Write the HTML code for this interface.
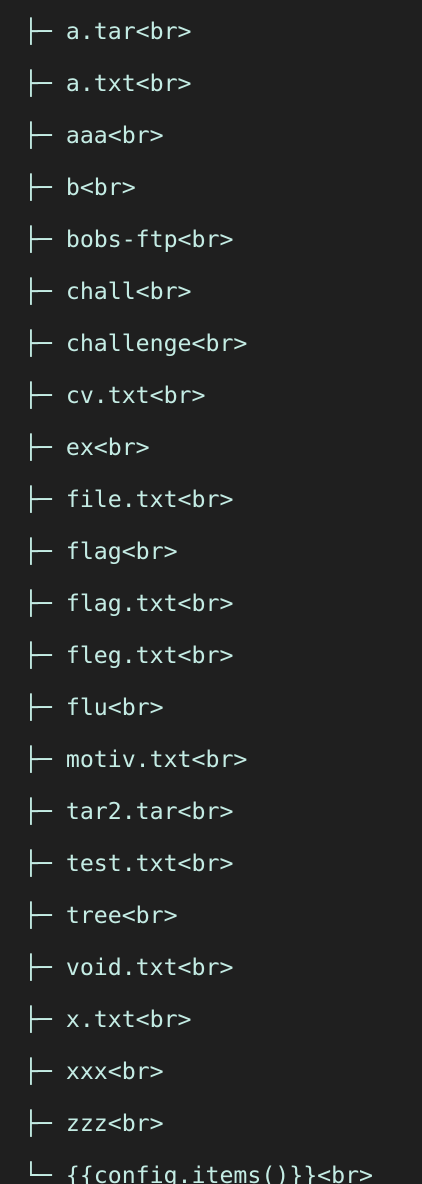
<!DOCTYPE html>
<html><head><meta charset="utf-8"><style>
html,body{margin:0;padding:0;background:#1f1f1f;width:422px;height:1184px;overflow:hidden}
pre{margin:0;padding:6px 0 0 24px;font-family:"DejaVu Sans Mono","Liberation Mono",monospace;font-size:23.2px;line-height:52px;color:#c4ece4;white-space:pre}
</style></head><body><pre>├─ a.tar&lt;br&gt;
├─ a.txt&lt;br&gt;
├─ aaa&lt;br&gt;
├─ b&lt;br&gt;
├─ bobs-ftp&lt;br&gt;
├─ chall&lt;br&gt;
├─ challenge&lt;br&gt;
├─ cv.txt&lt;br&gt;
├─ ex&lt;br&gt;
├─ file.txt&lt;br&gt;
├─ flag&lt;br&gt;
├─ flag.txt&lt;br&gt;
├─ fleg.txt&lt;br&gt;
├─ flu&lt;br&gt;
├─ motiv.txt&lt;br&gt;
├─ tar2.tar&lt;br&gt;
├─ test.txt&lt;br&gt;
├─ tree&lt;br&gt;
├─ void.txt&lt;br&gt;
├─ x.txt&lt;br&gt;
├─ xxx&lt;br&gt;
├─ zzz&lt;br&gt;
└─ {{config.items()}}&lt;br&gt;</pre></body></html>
